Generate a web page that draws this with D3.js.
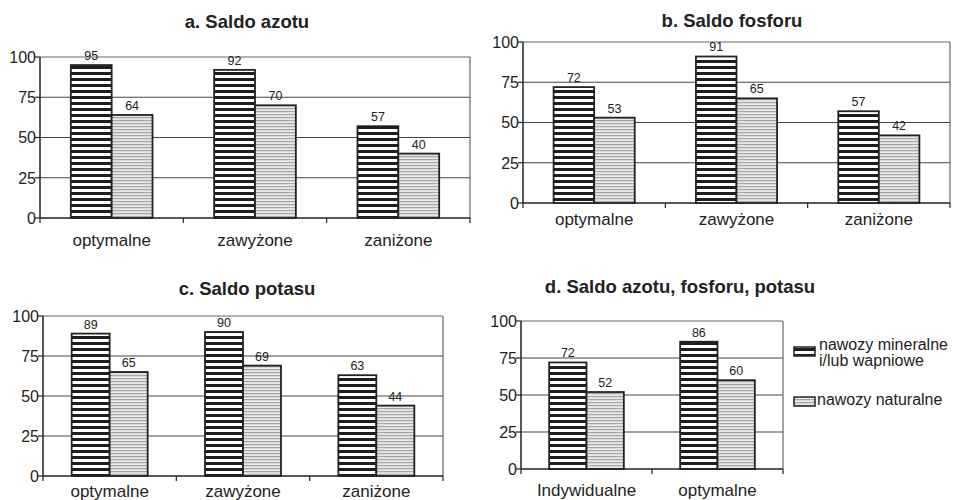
<!DOCTYPE html>
<html lang="pl">
<head>
<meta charset="UTF-8">
<title>Saldo azotu, fosforu, potasu</title>
<script src="https://d3js.org/d3.v7.min.js"></script>
<style>
  body { margin: 0; background: #fff; }
  text { font-family: "Liberation Sans", Arial, sans-serif; fill: #222; }
  .title { font-weight: bold; font-size: 18.5px; }
  .ytick { font-size: 16px; }
  .xcat { font-size: 17px; }
  .val { font-size: 12.5px; }
  .leg { font-size: 16px; }
</style>
</head>
<body>
<div id="chart"></div>
<script>
// dane
var kategorie = ["optymalne", "zawyżone", "zaniżone"];
var kategorieD = ["Indywidualne", "optymalne"];
var serie = ["nawozy mineralne i/lub wapniowe", "nawozy naturalne"];
var yTicks = [0, 25, 50, 75, 100];

var azotMineralne = [95, 92, 57];
var azotNaturalne = [64, 70, 40];
var fosforMineralne = [72, 91, 57];
var fosforNaturalne = [53, 65, 42];
var potasMineralne = [89, 90, 63];
var potasNaturalne = [65, 69, 44];
var npkMineralne = [72, 86];
var npkNaturalne = [52, 60];

var width = 955, height = 500;

var svg = d3.select("#chart").append("svg")
    .attr("width", width)
    .attr("height", height);

// wzory wypelnien
var defs = svg.append("defs");
var p1 = defs.append("pattern").attr("id", "pasyCiemne")
    .attr("patternUnits", "userSpaceOnUse").attr("width", 8).attr("height", 6);
p1.append("rect").attr("width", 8).attr("height", 6).attr("fill", "#fff");
p1.append("rect").attr("width", 8).attr("height", 3).attr("fill", "#1e1e1e");

var p2 = defs.append("pattern").attr("id", "pasyJasne")
    .attr("patternUnits", "userSpaceOnUse").attr("width", 8).attr("height", 3);
p2.append("rect").attr("width", 8).attr("height", 3).attr("fill", "#e8e8e8");
p2.append("rect").attr("width", 8).attr("height", 1.2).attr("fill", "#a6a6a6");

var fills = ["url(#pasyCiemne)", "url(#pasyJasne)"];

var panels = [
  { title: "a. Saldo azotu", cats: kategorie, vals: [azotMineralne, azotNaturalne],
    left: 40, right: 470, top: 57, bottom: 218, titleX: 247, titleY: 28, catY: 246 },
  { title: "b. Saldo fosforu", cats: kategorie, vals: [fosforMineralne, fosforNaturalne],
    left: 523, right: 950, top: 42, bottom: 203, titleX: 732, titleY: 27, catY: 225 },
  { title: "c. Saldo potasu", cats: kategorie, vals: [potasMineralne, potasNaturalne],
    left: 43, right: 443, top: 316, bottom: 476, titleX: 247, titleY: 295, catY: 497 },
  { title: "d. Saldo azotu, fosforu, potasu", cats: kategorieD, vals: [npkMineralne, npkNaturalne],
    left: 521, right: 783, top: 321, bottom: 469, titleX: 680, titleY: 293, catY: 496 }
];

panels.forEach(function(p) {
  var g = svg.append("g");
  var x = d3.scaleBand().domain(p.cats).range([p.left, p.right])
      .paddingInner(0.43).paddingOuter(0.215);
  var xs = d3.scaleBand().domain([0, 1]).range([0, x.bandwidth()]);
  var y = d3.scaleLinear().domain([0, 100]).range([p.bottom, p.top]);
  var step = x.step();

  g.append("text").attr("class", "title")
      .attr("x", p.titleX).attr("y", p.titleY)
      .attr("text-anchor", "middle").text(p.title);

  // siatka
  g.selectAll(".grid").data(yTicks.filter(function(d) { return d > 0; }))
    .enter().append("line")
      .attr("x1", p.left).attr("x2", p.right)
      .attr("y1", function(d) { return y(d); }).attr("y2", function(d) { return y(d); })
      .attr("stroke", function(d) { return d == 100 ? "#666" : "#444"; })
      .attr("stroke-width", 1.2);
  g.append("line").attr("x1", p.right).attr("x2", p.right)
      .attr("y1", p.top).attr("y2", p.bottom)
      .attr("stroke", "#666").attr("stroke-width", 1.2);

  // os Y
  g.append("line").attr("x1", p.left).attr("x2", p.left)
      .attr("y1", p.top).attr("y2", p.bottom)
      .attr("stroke", "#222").attr("stroke-width", 1.5);
  g.selectAll(".yt").data(yTicks).enter().append("line")
      .attr("x1", p.left - 5).attr("x2", p.left)
      .attr("y1", function(d) { return y(d); }).attr("y2", function(d) { return y(d); })
      .attr("stroke", "#222").attr("stroke-width", 1.2);
  g.selectAll(".ytick").data(yTicks).enter().append("text")
      .attr("class", "ytick")
      .attr("x", p.left - 4).attr("y", function(d) { return y(d); })
      .attr("dy", "0.36em").attr("text-anchor", "end")
      .text(function(d) { return d; });

  // os X
  g.append("line").attr("x1", p.left).attr("x2", p.right)
      .attr("y1", p.bottom).attr("y2", p.bottom)
      .attr("stroke", "#222").attr("stroke-width", 1.5);
  g.selectAll(".xt").data(d3.range(p.cats.length + 1)).enter().append("line")
      .attr("x1", function(i) { return p.left + i * step; })
      .attr("x2", function(i) { return p.left + i * step; })
      .attr("y1", p.bottom).attr("y2", p.bottom + 5)
      .attr("stroke", "#222").attr("stroke-width", 1.2);
  g.selectAll(".xcat").data(p.cats).enter().append("text")
      .attr("class", "xcat")
      .attr("x", function(d) { return x(d) + x.bandwidth() / 2; })
      .attr("y", p.catY).attr("text-anchor", "middle")
      .text(function(d) { return d; });

  // slupki
  p.vals.forEach(function(vals, s) {
    g.selectAll(".bar" + s).data(vals).enter().append("rect")
        .attr("x", function(d, i) { return x(p.cats[i]) + xs(s); })
        .attr("y", function(d) { return y(d); })
        .attr("width", xs.bandwidth())
        .attr("height", function(d) { return p.bottom - y(d); })
        .attr("fill", fills[s])
        .attr("stroke", "#222").attr("stroke-width", 1.8);
    g.selectAll(".val" + s).data(vals).enter().append("text")
        .attr("class", "val")
        .attr("x", function(d, i) { return x(p.cats[i]) + xs(s) + xs.bandwidth() / 2; })
        .attr("y", function(d) { return y(d) - 5; })
        .attr("text-anchor", "middle")
        .text(function(d) { return d; });
  });
});

// legenda
var legend = svg.append("g");
var legY = [347, 397];
legend.selectAll("rect").data(serie).enter().append("rect")
    .attr("x", 794).attr("y", function(d, i) { return legY[i]; })
    .attr("width", 21).attr("height", 9)
    .attr("fill", function(d, i) { return fills[i]; })
    .attr("stroke", "#222").attr("stroke-width", 1.5);
legend.append("text").attr("class", "leg").attr("x", 819).attr("y", 350).text("nawozy mineralne");
legend.append("text").attr("class", "leg").attr("x", 819).attr("y", 366).text("i/lub wapniowe");
legend.append("text").attr("class", "leg").attr("x", 817).attr("y", 405).text(serie[1]);
</script>
</body>
</html>
